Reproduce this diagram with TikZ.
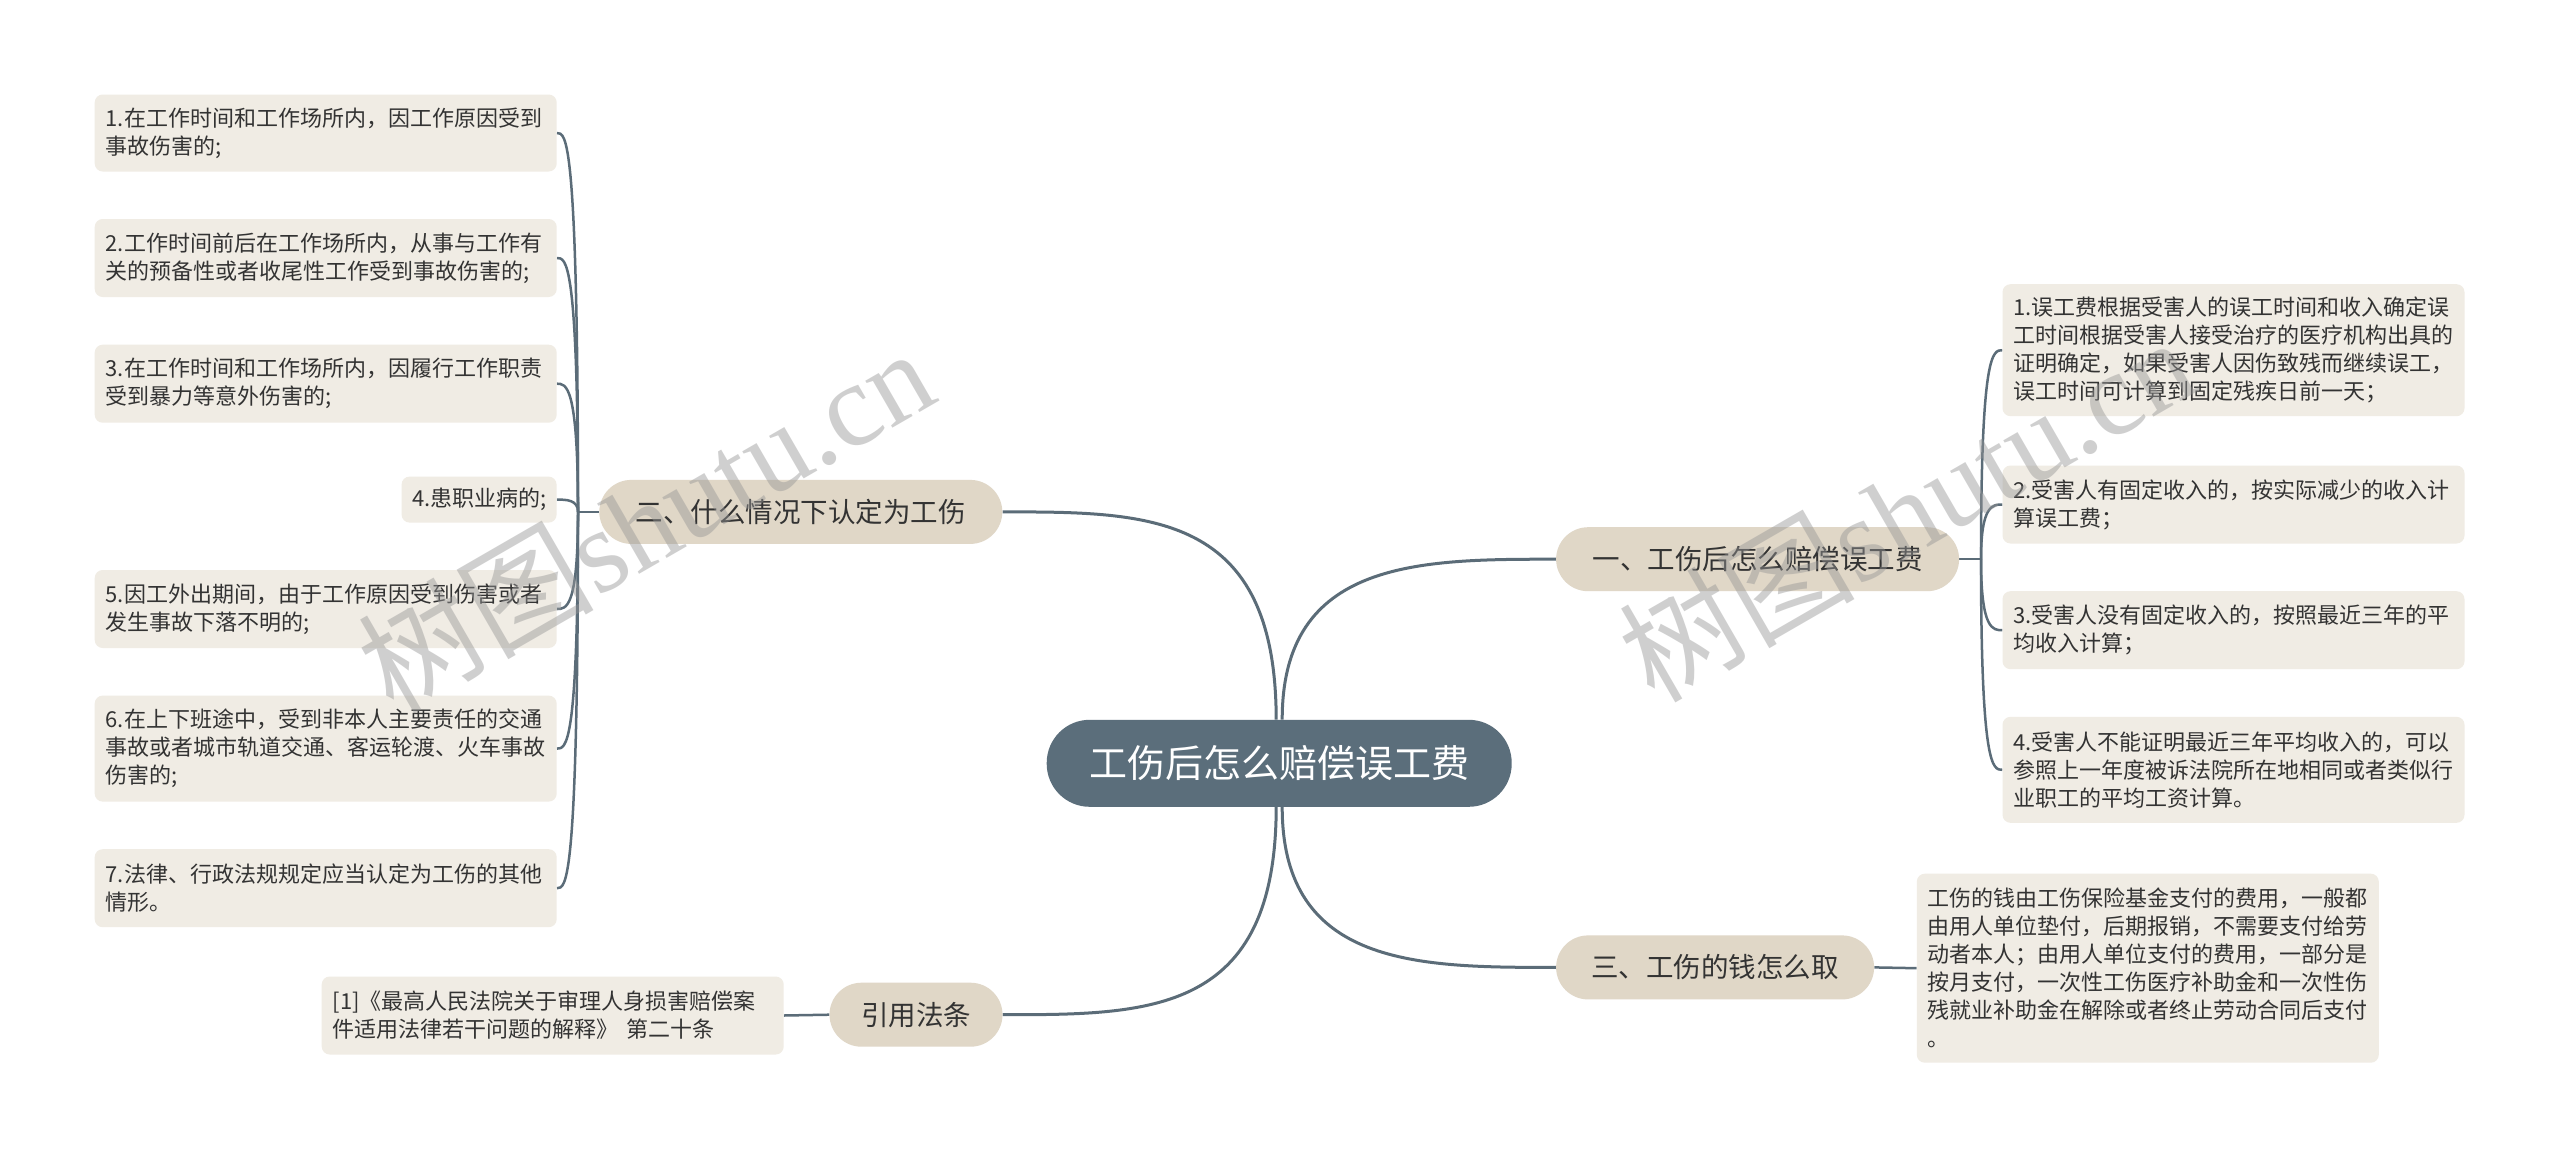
\documentclass[tikz,border=0pt]{standalone}
\usepackage{fontspec}
\setmainfont{Noto Sans CJK SC}
\newfontfamily\cjk{Noto Sans CJK SC}
\newfontfamily\wmserif{Liberation Serif}
\usetikzlibrary{backgrounds}
\definecolor{centerfill}{HTML}{5B6E7B}
\definecolor{branchfill}{HTML}{E0D7C7}
\definecolor{leaffill}{HTML}{F0ECE4}
\definecolor{linecol}{HTML}{5B6C78}
\definecolor{txt}{HTML}{333333}
\definecolor{wmcol}{HTML}{969696}
\begin{document}
\begin{tikzpicture}[x=1pt,y=-1pt,
  centerbox/.style={fill=centerfill, rounded corners=43pt, minimum width=465pt, minimum height=87pt,
    text=white, font=\fontsize{38}{44}\selectfont, inner sep=0pt},
  branchbox/.style={fill=branchfill, rounded corners=32pt, minimum height=64pt,
    text=txt, font=\fontsize{27.5}{32}\selectfont, inner sep=0pt},
  leafbox/.style={fill=leaffill, rounded corners=8pt, text=txt, font=\fontsize{22}{28}\selectfont,
    align=left, text width=440pt, inner xsep=11pt, inner ysep=0pt},
  mainline/.style={draw=linecol, line width=3pt},
  leafline/.style={draw=linecol, line width=2.5pt},
  wm/.style={text=wmcol, opacity=0.45, font=\fontsize{118}{130}\selectfont, inner sep=0pt}
]
\useasboundingbox (0,0) rectangle (2560,1159);

% central and branch nodes
\node[centerbox] (c) at (1279.2,763.3) {工伤后怎么赔偿误工费};
\node[branchbox, minimum width=403pt] (b1) at (1757.6,559.2) {一、工伤后怎么赔偿误工费};
\node[branchbox, minimum width=403pt] (b2) at (800.8,511.9) {二、什么情况下认定为工伤};
\node[branchbox, minimum width=318pt] (b3) at (1715.1,967.4) {三、工伤的钱怎么取};
\node[branchbox, minimum width=173pt] (b4) at (916,1014.7) {引用法条};

% left leaves
\node[leafbox, minimum height=77pt] (l1) at (325.7,133) {1.在工作时间和工作场所内，因工作原因受到\\事故伤害的;};
\node[leafbox, minimum height=78pt] (l2) at (325.7,258) {2.工作时间前后在工作场所内，从事与工作有\\关的预备性或者收尾性工作受到事故伤害的;};
\node[leafbox, minimum height=78pt] (l3) at (325.7,383.7) {3.在工作时间和工作场所内，因履行工作职责\\受到暴力等意外伤害的;};
\node[leafbox, text width=133pt, align=center, minimum height=46pt] (l4) at (479.1,499.6) {4.患职业病的;};
\node[leafbox, minimum height=78pt] (l5) at (325.7,609) {5.因工外出期间，由于工作原因受到伤害或者\\发生事故下落不明的;};
\node[leafbox, minimum height=106pt] (l6) at (325.7,748.6) {6.在上下班途中，受到非本人主要责任的交通\\事故或者城市轨道交通、客运轮渡、火车事故\\伤害的;};
\node[leafbox, minimum height=78pt] (l7) at (325.7,888.2) {7.法律、行政法规规定应当认定为工伤的其他\\情形。};
\node[leafbox, minimum height=78pt] (cite) at (552.7,1015.5) {[1]《最高人民法院关于审理人身损害赔偿案\\件适用法律若干问题的解释》 第二十条};

% right leaves
\node[leafbox, minimum height=132pt] (r1) at (2233.5,350.2) {1.误工费根据受害人的误工时间和收入确定误\\工时间根据受害人接受治疗的医疗机构出具的\\证明确定，如果受害人因伤致残而继续误工，\\误工时间可计算到固定残疾日前一天；};
\node[leafbox, minimum height=78pt] (r2) at (2233.5,504.5) {2.受害人有固定收入的，按实际减少的收入计\\算误工费；};
\node[leafbox, minimum height=78pt] (r3) at (2233.5,630.2) {3.受害人没有固定收入的，按照最近三年的平\\均收入计算；};
\node[leafbox, minimum height=106pt] (r4) at (2233.5,769.8) {4.受害人不能证明最近三年平均收入的，可以\\参照上一年度被诉法院所在地相同或者类似行\\业职工的平均工资计算。};
\node[leafbox, minimum height=189pt] (r5) at (2147.8,968.2) {工伤的钱由工伤保险基金支付的费用，一般都\\由用人单位垫付，后期报销，不需要支付给劳\\动者本人；由用人单位支付的费用，一部分是\\按月支付，一次性工伤医疗补助金和一次性伤\\残就业补助金在解除或者终止劳动合同后支付\\。};

\begin{scope}[on background layer]
  \fill[white] (0,0) rectangle (2560,1159);
  % center to branches
  \draw[mainline] ([xshift=-3pt]c.north) .. controls (1276,511.9) and (1150,511.9) .. (b2.east);
  \draw[mainline] ([xshift=3pt]c.north) .. controls (1282,559.2) and (1420,559.2) .. (b1.west);
  \draw[mainline] ([xshift=-3pt]c.south) .. controls (1276,1014.7) and (1150,1014.7) .. (b4.east);
  \draw[mainline] ([xshift=3pt]c.south) .. controls (1282,967.4) and (1420,967.4) .. (b3.west);
  % left group
  \coordinate (jl) at (578,511.9);
  \draw[leafline] (b2.west) -- (jl);
  \foreach \n/\yy in {l1/133, l2/258, l3/383.7, l4/499.6, l5/609, l6/748.6, l7/888.2}
    \draw[leafline] (jl) .. controls (578,\yy) and (566,\yy) .. (\n.east);
  % right group
  \coordinate (jr) at (1981,559.2);
  \draw[leafline] (b1.east) -- (jr);
  \foreach \n/\yy in {r1/350.2, r2/504.5, r3/630.2, r4/769.8}
    \draw[leafline] (jr) .. controls (1981,\yy) and (1993,\yy) .. (\n.west);
  % straight ones
  \draw[leafline] (b3.east) -- (r5.west);
  \draw[leafline] (b4.west) -- (cite.east);
\end{scope}

% watermarks
\node[wm, rotate=30] (wm1) at (645,519) {\cjk 树图\wmserif shutu.cn};
\node[wm, rotate=30] (wm2) at (1906,508) {\cjk 树图\wmserif shutu.cn};
\end{tikzpicture}
\end{document}
